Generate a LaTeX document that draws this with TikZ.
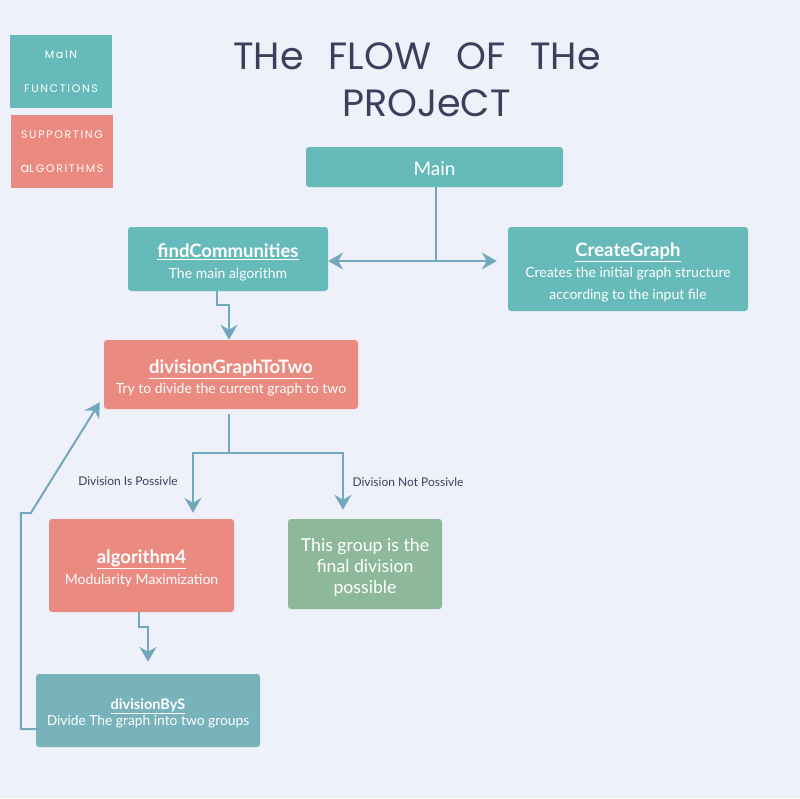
\documentclass[tikz,border=0pt]{standalone}
\usepackage{fontspec}
\setmainfont{Lato}
\newfontfamily\titlefont{Poppins}
\newfontfamily\legfont{Poppins}[LetterSpace=15]
\usetikzlibrary{arrows.meta}
\definecolor{bgc}{HTML}{EEF1FA}
\definecolor{teal1}{HTML}{66BBBA}
\definecolor{salm}{HTML}{EA8A80}
\definecolor{grn}{HTML}{8DB99A}
\definecolor{tealb}{HTML}{78B2BB}
\definecolor{arr}{HTML}{72A8BB}
\definecolor{navy}{HTML}{3B3F5C}
\newcommand\hd[1]{{\fontsize{18.5}{22}\selectfont\bfseries\rule{0pt}{20pt}\underline{#1}}}
\tikzset{
  box/.style={rectangle, rounded corners=3pt, text=white, align=center, inner sep=0pt, font=\fontsize{14}{22}\selectfont},
  legbox/.style={rectangle, text=white, align=center, inner sep=0pt, minimum width=102pt, minimum height=73pt, font=\legfont\fontsize{11}{12}\selectfont},
  conn/.style={draw=arr, line width=2pt},
  arrw/.style={conn, -{Stealth[length=15pt,width=17pt,inset=5pt]}},
  lbl/.style={text=navy, font=\fontsize{12}{14}\selectfont, inner sep=0pt}
}
\begin{document}
\begin{tikzpicture}[x=1pt,y=-1pt]
\fill[bgc] (0,0) rectangle (800,798);
\useasboundingbox (0,0) rectangle (800,798);
% legend
\node[legbox, fill=teal1] (leg1) at (61,71.5) {MaIN\\[22pt]FUNCTIONS};
\node[legbox, fill=salm] (leg2) at (62,151.5) {SUPPORTING\\[22pt]{\fontsize{13}{12}\selectfont a}LGORITHMS};
% title
\node[text=navy, align=center, font=\titlefont\fontsize{38}{47}\selectfont, inner sep=0pt] (title) at (417,80) {THe\hspace{25pt}FLOW\hspace{25pt}OF\hspace{25pt}THe\\\hspace*{19pt}PROJeCT};
% boxes
\node[box, fill=teal1, minimum width=257pt, minimum height=40pt, font=\fontsize{19}{22}\selectfont] (main) at (434.5,167) {\rule{0pt}{18pt}Main};
\node[box, fill=teal1, minimum width=200pt, minimum height=64pt] (findc) at (228,259)
  {\hd{findCommunities}\\[-1pt]The main algorithm};
\node[box, fill=teal1, minimum width=240pt, minimum height=84pt] (cg) at (628,269)
  {\hd{CreateGraph}\\[-1pt]Creates the initial graph structure\\[0pt]according to the input file};
\node[box, fill=salm, minimum width=254pt, minimum height=69pt] (dg) at (231,374.5)
  {\hd{divisionGraphToTwo}\\[-2pt]Try to divide the current graph to two};
\node[box, fill=salm, minimum width=185pt, minimum height=93pt] (alg) at (141.5,565.5)
  {\hd{algorithm4}\\[-1pt]Modularity Maximization};
\node[box, fill=grn, minimum width=154pt, minimum height=90pt, font=\fontsize{17.7}{21}\selectfont] (fin) at (365,564)
  {\rule{0pt}{19.5pt}This group is the\\final division\\possible};
\node[box, fill=tealb, minimum width=224pt, minimum height=73pt, font=\fontsize{13.8}{16}\selectfont] (ds) at (148,710.5)
  {{\fontsize{14.5}{16}\selectfont\bfseries\rule{0pt}{16pt}\underline{divisionByS}}\\Divide The graph into two groups};
% connectors
\coordinate (j1) at (436,261);
\draw[conn] (main.south -| j1) -- (j1);
\draw[arrw] (j1) -- (findc.east |- j1);
\draw[arrw, shorten >=11pt] (j1) -- (cg.west |- j1);
\draw[arrw] ([xshift=-11pt]findc.south) -- ++(0,14) -| ([xshift=-2pt]dg.north);
\coordinate (j2) at (229,453);
\draw[conn] ([xshift=-2pt,yshift=-5pt]dg.south) -- (j2);
\draw[arrw] (j2) -| ([xshift=51.5pt,yshift=6pt]alg.north);
\draw[arrw] (j2) -| ([xshift=-22pt,yshift=9pt]fin.north);
\draw[arrw] ([xshift=-2.5pt]alg.south) -- ++(0,15) -| ([yshift=12pt]ds.north);
\draw[arrw] ([xshift=5pt,yshift=-18.5pt]ds.west) -- ++(-20,0) -- ++(0,-216) -- ++(10,0) -- ([xshift=-4pt,yshift=7pt]dg.south west);
% labels
\node[lbl] (l1) at (128,481) {Division Is Possivle};
\node[lbl] (l2) at (408,482) {Division Not Possivle};
\end{tikzpicture}
\end{document}
